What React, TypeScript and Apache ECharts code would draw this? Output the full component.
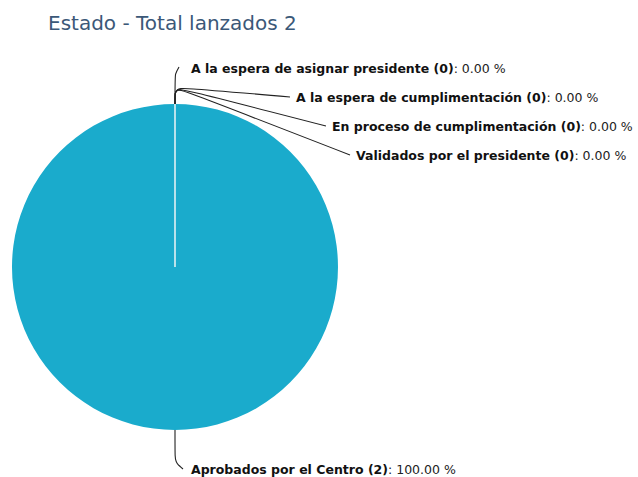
import React, { useEffect, useRef } from 'react';
import * as echarts from 'echarts';

const titleText = 'Estado - Total lanzados 2';
const categories = [
  'A la espera de asignar presidente',
  'A la espera de cumplimentación',
  'En proceso de cumplimentación',
  'Validados por el presidente',
  'Aprobados por el Centro',
];
const values = [0, 0, 0, 0, 2];

const W = 638;
const H = 477;
const CX = 175;
const CY = 267;
const R = 163;
// label anchor positions (left edge, vertical middle)
const labelPos = [
  [191, 68],
  [296, 97],
  [332, 126],
  [356, 155],
  [191, 469],
];

export default function App() {
  const ref = useRef<HTMLDivElement>(null);
  useEffect(() => {
    if (!ref.current) return;
    const chart = echarts.init(ref.current, undefined, { renderer: 'svg' });
    const font = '"DejaVu Sans", Verdana, sans-serif';
    chart.setOption({
      animation: false,
      backgroundColor: '#fff',
      title: {
        text: titleText,
        left: 43,
        top: 8,
        textStyle: { fontFamily: font, fontSize: 20, fontWeight: 'normal', color: '#3b5878' },
      },
      graphic: [
        {
          type: 'line',
          z: 100,
          shape: { x1: CX, y1: CY, x2: CX, y2: CY - R },
          style: { stroke: '#eef4f6', lineWidth: 1.5 },
        },
      ],
      series: [
        {
          type: 'pie',
          center: [CX, CY],
          radius: R,
          startAngle: 90,
          clockwise: true,
          avoidLabelOverlap: false,
          data: categories.map((c, i) => ({
            name: c,
            value: values[i],
            itemStyle: { color: '#1aabcc', borderWidth: 0 },
          })),
          label: {
            show: true,
            position: 'outside',
            formatter: (p: any) => `{b|${p.name} (${p.value})}{n|: ${Number(p.percent).toFixed(2)} %}`,
            rich: {
              b: { fontFamily: font, fontSize: 12.5, fontWeight: 'bold', color: '#111' },
              n: { fontFamily: font, fontSize: 12.5, color: '#222' },
            },
          },
          labelLine: {
            show: true,
            smooth: 0.3,
            lineStyle: { color: '#222', width: 1.1 },
          },
          labelLayout: (p: any) => {
            const i = p.dataIndex;
            const [lx, ly] = labelPos[i];
            let pts: number[][];
            if (i === 4) {
              pts = [[CX, CY + R], [CX, CY + R + 32], [lx - 8, ly]];
            } else if (i === 0) {
              pts = [[CX, CY - R], [CX, CY - R - 30], [lx - 12, ly - 1]];
            } else {
              pts = [[CX, CY - R], [CX, CY - R - 17], [lx - 6, ly]];
            }
            return { x: lx, y: ly, align: 'left', verticalAlign: 'middle', labelLinePoints: pts };
          },
        },
      ],
    });
    return () => chart.dispose();
  }, []);
  return <div ref={ref} style={{ position: 'fixed', left: 0, top: 0, width: W, height: H }} />;
}
